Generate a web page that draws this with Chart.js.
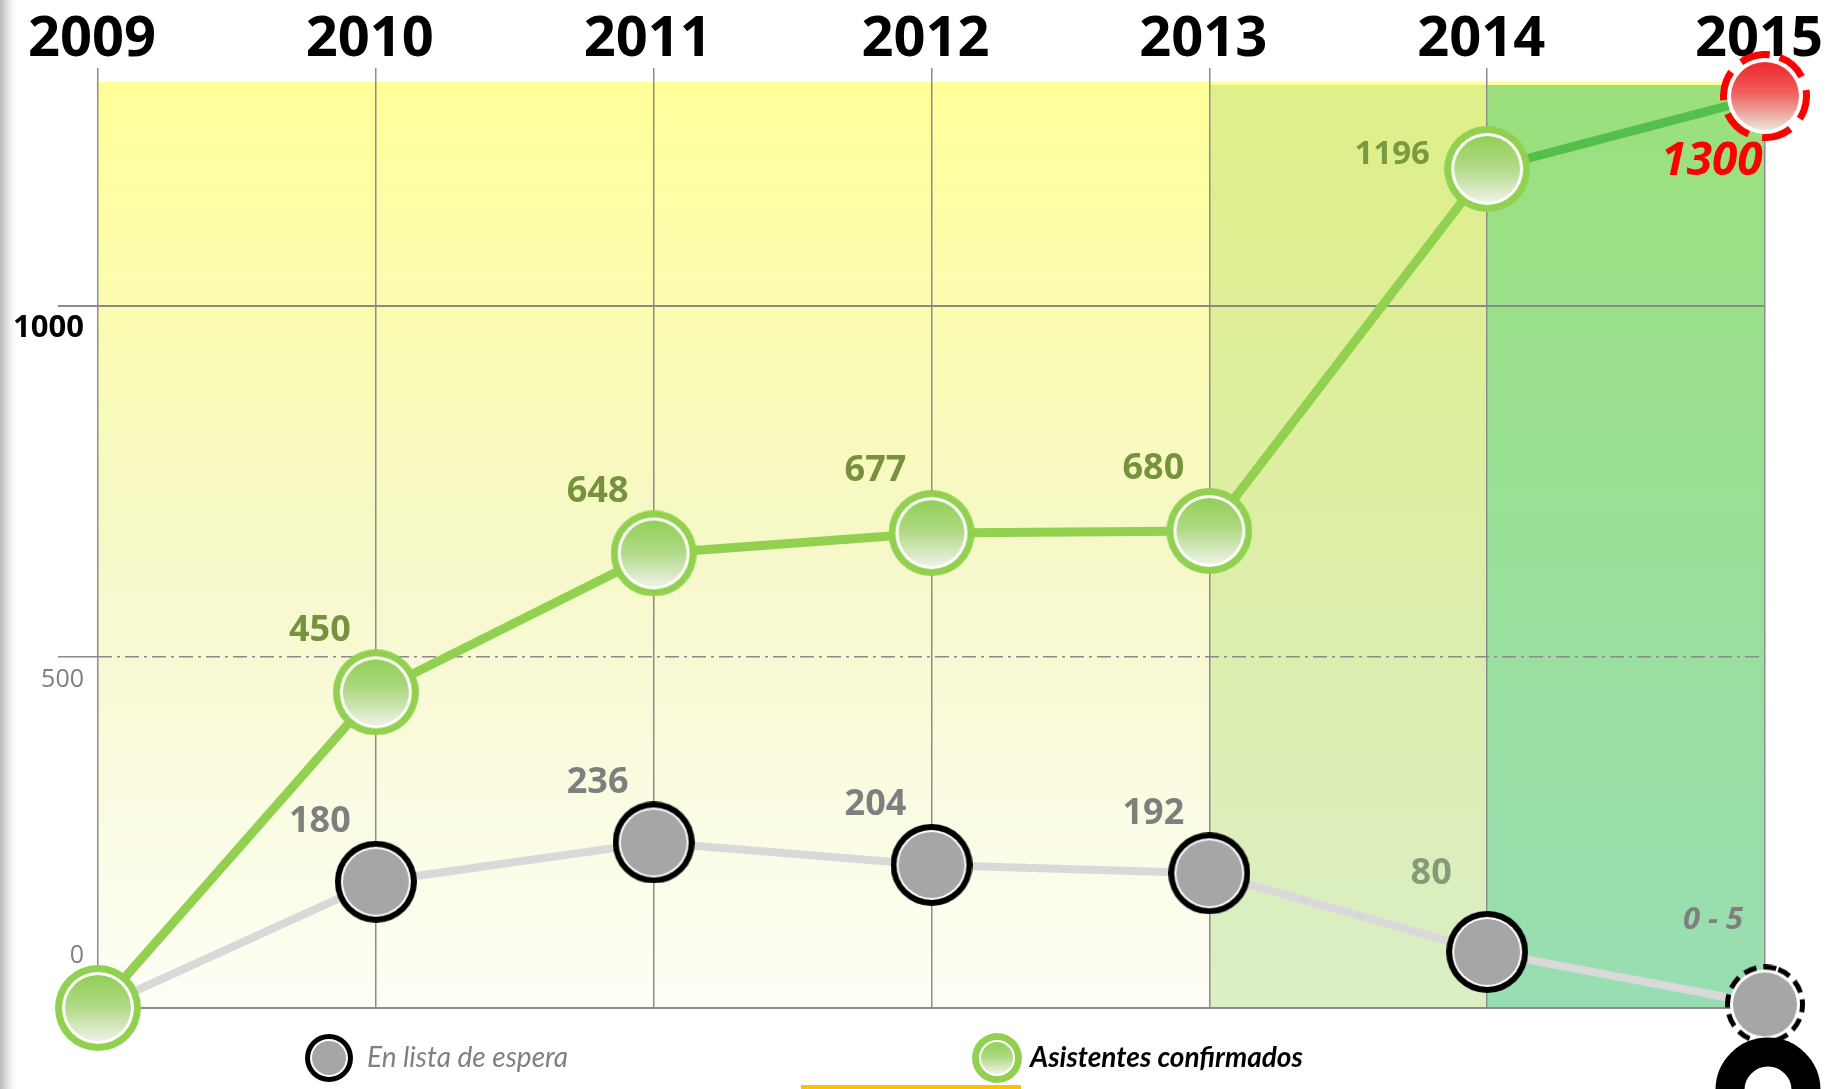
<!DOCTYPE html>
<html lang="es">
<head>
<meta charset="utf-8">
<title>Asistentes 2009 - 2015</title>
<script src="https://cdn.jsdelivr.net/npm/chart.js@4.4.1/dist/chart.umd.min.js"></script>
<style>
  html, body {
    margin: 0;
    padding: 0;
    width: 1826px;
    height: 1089px;
    overflow: hidden;
    background: linear-gradient(to right, #b9b9b9 0px, #dedede 7px, #f6f6f6 12px, #ffffff 16px);
  }
  canvas { display: block; }
</style>
</head>
<body>
<canvas id="chart" width="1826" height="1089"></canvas>
<script>
var anios = ['2009', '2010', '2011', '2012', '2013', '2014', '2015'];
var confirmados = [0, 450, 648, 677, 680, 1196, 1300];
var enEspera = [0, 180, 236, 204, 192, 80, 5];
var textoConfirmados = ['', '450', '648', '677', '680', '1196', '1300'];
var textoEspera = ['', '180', '236', '204', '192', '80', '0 - 5'];
var marcasY = [0, 500, 1000];

// little canvases used as point styles (ring + white edge + filled centre)
function marcador(d, anillo, grosor, blanco, arriba, abajo, guiones) {
  var c = document.createElement('canvas');
  c.width = d;
  c.height = d;
  var g = c.getContext('2d');
  var r = d / 2;
  var rIn = r - grosor - blanco;
  g.translate(r, r);
  if (guiones) {
    g.fillStyle = '#ffffff';
    g.beginPath(); g.arc(0, 0, rIn + blanco, 0, Math.PI * 2); g.fill();
    g.strokeStyle = anillo;
    g.lineWidth = grosor;
    g.setLineDash(guiones);
    g.beginPath(); g.arc(0, 0, r - grosor / 2, -Math.PI / 2.6, Math.PI * 1.62); g.stroke();
  } else {
    g.fillStyle = anillo;
    g.beginPath(); g.arc(0, 0, r, 0, Math.PI * 2); g.fill();
    g.fillStyle = '#ffffff';
    g.beginPath(); g.arc(0, 0, rIn + blanco, 0, Math.PI * 2); g.fill();
  }
  var grad = g.createLinearGradient(0, -rIn, 0, rIn);
  grad.addColorStop(0, arriba);
  grad.addColorStop(0.45, arriba === abajo ? abajo : mezcla(arriba, abajo));
  grad.addColorStop(1, abajo);
  g.fillStyle = grad;
  g.beginPath(); g.arc(0, 0, rIn, 0, Math.PI * 2); g.fill();
  return c;
}

function mezcla(a, b) {
  var pa = [1, 3, 5].map(function (i) { return parseInt(a.substr(i, 2), 16); });
  var pb = [1, 3, 5].map(function (i) { return parseInt(b.substr(i, 2), 16); });
  return 'rgb(' + pa.map(function (v, i) { return Math.round(v * 0.7 + pb[i] * 0.3); }).join(',') + ')';
}

var puntoVerde = marcador(86, '#92d050', 7, 3, '#92cf58', '#eef2e4');
var puntoRojo = marcador(90, '#ff0000', 7, 4, '#f0262a', '#ebe6d8', [30, 14]);
var puntoGris = marcador(82, '#000000', 6, 2, '#a6a6a6', '#a6a6a6');
var puntoGrisFin = marcador(80, '#000000', 5, 3, '#a6a6a6', '#a6a6a6', [13, 7]);
var leyendaGris = marcador(48, '#000000', 5, 2, '#a6a6a6', '#a6a6a6');
var leyendaVerde = marcador(50, '#92d050', 7, 2, '#92cf58', '#eef2e4');

var ultimo = anios.length - 1;

// plot background: yellow fade plus two coloured bands for the last years
var fondoPlugin = {
  id: 'fondo',
  beforeDraw: function (chart) {
    var a = chart.chartArea, c = chart.ctx, x = chart.scales.x;
    var g = c.createLinearGradient(0, a.top, 0, a.bottom);
    g.addColorStop(0, '#ffff99');
    g.addColorStop(0.5, '#f6f8c8');
    g.addColorStop(1, '#fefef6');
    c.save();
    c.fillStyle = g;
    c.fillRect(a.left, a.top, a.right - a.left, a.bottom - a.top);
    var bandas = [
      { desde: '2013', hasta: '2014', arriba: '#dfef88', abajo: '#dbeec6' },
      { desde: '2014', hasta: '2015', arriba: '#9be07c', abajo: '#98deb3' }
    ];
    bandas.forEach(function (b) {
      var x0 = x.getPixelForValue(anios.indexOf(b.desde));
      var x1 = x.getPixelForValue(anios.indexOf(b.hasta));
      var gb = c.createLinearGradient(0, a.top, 0, a.bottom);
      gb.addColorStop(0, b.arriba);
      gb.addColorStop(1, b.abajo);
      c.fillStyle = gb;
      c.fillRect(x0, a.top + 3, x1 - x0, a.bottom - a.top - 3);
    });
    c.restore();
  }
};

// value labels next to each point
var etiquetasPlugin = {
  id: 'etiquetas',
  afterDatasetsDraw: function (chart) {
    var c = chart.ctx;
    var textos = [textoEspera, textoConfirmados];
    chart.data.datasets.forEach(function (ds, i) {
      chart.getDatasetMeta(i).data.forEach(function (pt, j) {
        var t = textos[i][j];
        if (!t) return;
        var e;
        if (i === 0) {
          e = { font: 'bold 36px "Open Sans"', color: '#7f7f7f', dx: -56, dy: -60 };
          if (j === ultimo - 1) { e.color = '#879a78'; e.dy = -78; }
          if (j === ultimo) { e.font = 'italic bold 31px "Open Sans"'; e.dx = -52; e.dy = -84; }
        } else {
          e = { font: 'bold 36px "Open Sans"', color: '#76923c', dx: -56, dy: -62 };
          if (j === ultimo - 1) { e.font = 'bold 33px "Open Sans"'; e.color = '#7b9940'; e.dx = -95; e.dy = -14; }
          if (j === ultimo) { e.font = 'italic bold 46px "Open Sans"'; e.color = '#ff0000'; e.dx = -53; e.dy = 66; }
        }
        c.save();
        c.font = e.font;
        c.fillStyle = e.color;
        c.textAlign = 'center';
        c.textBaseline = 'middle';
        c.fillText(t, pt.x + e.dx, pt.y + e.dy);
        c.restore();
      });
    });
  }
};

// legend under the plot, plus the decorations at the bottom edge
var leyendaPlugin = {
  id: 'leyenda',
  afterDraw: function (chart) {
    var c = chart.ctx;
    var y = chart.chartArea.bottom + 50;
    var items = [
      { img: leyendaGris, x: 329, texto: chart.data.datasets[0].label, font: 'italic 28px Lato', color: '#808080', gap: 38 },
      { img: leyendaVerde, x: 997, texto: chart.data.datasets[1].label, font: 'italic bold 28px Lato', color: '#000000', gap: 33 }
    ];
    c.save();
    c.fillStyle = '#ffc000';
    c.fillRect(801, chart.height - 4, 220, 4);
    items.forEach(function (it) {
      c.drawImage(it.img, it.x - it.img.width / 2, y - it.img.height / 2);
      c.font = it.font;
      c.fillStyle = it.color;
      c.textAlign = 'left';
      c.textBaseline = 'middle';
      c.fillText(it.texto, it.x + it.gap, y);
    });
    c.strokeStyle = '#000000';
    c.lineWidth = 29;
    c.beginPath();
    c.arc(chart.width - 58, chart.height + 1, 38, 0, Math.PI * 2);
    c.stroke();
    c.restore();
  }
};

var ctx = document.getElementById('chart').getContext('2d');

var grafico = new Chart(ctx, {
  type: 'line',
  data: {
    labels: anios,
    datasets: [{
      label: 'En lista de espera',
      data: enEspera,
      borderColor: '#d9d9d9',
      borderWidth: 8,
      pointStyle: anios.map(function (a, i) { return i === ultimo ? puntoGrisFin : puntoGris; }),
      pointRadius: 41,
      order: 2,
      clip: false
    }, {
      label: 'Asistentes confirmados',
      data: confirmados,
      borderColor: '#92d050',
      borderWidth: 9,
      segment: {
        borderColor: function (s) { return s.p1DataIndex === ultimo ? '#55bf4b' : undefined; }
      },
      pointStyle: anios.map(function (a, i) { return i === ultimo ? puntoRojo : puntoVerde; }),
      pointRadius: 43,
      order: 1,
      clip: false
    }]
  },
  options: {
    responsive: false,
    animation: false,
    events: [],
    layout: { padding: { top: 0, left: 0, right: 61, bottom: 81 } },
    elements: { line: { tension: 0, borderCapStyle: 'round' } },
    plugins: {
      legend: { display: false },
      tooltip: { enabled: false }
    },
    scales: {
      x: {
        position: 'top',
        offset: false,
        border: { display: false },
        grid: {
          color: '#8c8c8c',
          lineWidth: 1.5,
          tickLength: 14,
          tickColor: '#8c8c8c'
        },
        ticks: {
          color: '#000000',
          padding: -6,
          labelOffset: -6,
          maxRotation: 0,
          autoSkip: false,
          font: { family: 'Open Sans', size: 56, weight: 'bold' }
        },
        afterFit: function (s) { s.height = 82; }
      },
      y: {
        min: 0,
        max: 1320,
        border: {
          display: false,
          dash: function (c) { return c.tick && c.tick.value === 500 ? [14, 5, 3, 5] : []; }
        },
        grid: {
          color: '#8a8a8a',
          lineWidth: function (c) { return c.tick && c.tick.value === 500 ? 1.5 : 2; },
          tickLength: 40,
          tickColor: function (c) { return c.tick && c.tick.value === 0 ? 'rgba(0,0,0,0)' : '#8a8a8a'; }
        },
        afterBuildTicks: function (s) {
          s.ticks = marcasY.map(function (v) { return { value: v }; });
        },
        ticks: {
          padding: -26,
          autoSkip: false,
          // an empty line shifts each number: under its grid line, or above the baseline for 0
          callback: function (v) { return v === 0 ? [String(v), ''] : ['', String(v)]; },
          color: function (c) { return c.tick && c.tick.value === 1000 ? '#000000' : '#808080'; },
          font: function (c) {
            if (c.tick && c.tick.value === 1000) {
              return { family: 'Open Sans', size: 31, weight: 'bold', lineHeight: 1.4 };
            }
            return { family: 'Open Sans', size: 25, lineHeight: c.tick && c.tick.value === 0 ? 4.2 : 1.8 };
          }
        },
        afterFit: function (s) { s.width = 98; }
      }
    }
  },
  plugins: [fondoPlugin, etiquetasPlugin, leyendaPlugin]
});
</script>
</body>
</html>
